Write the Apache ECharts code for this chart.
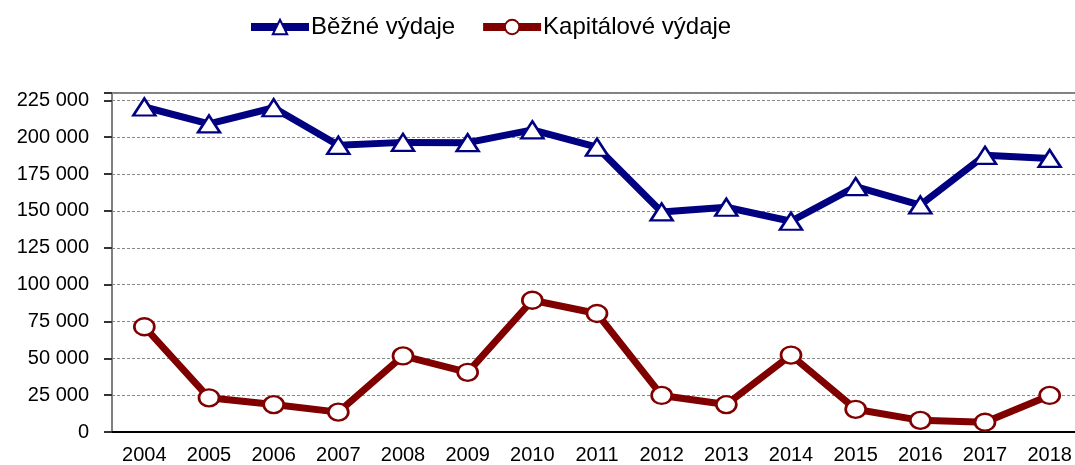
<!DOCTYPE html>
<html lang="cs">
<head>
    <meta charset="UTF-8">
    <title>vydaje</title>
    <script src="https://cdn.jsdelivr.net/npm/echarts@6/dist/echarts.min.js"></script>
</head>
<body style="margin:0">
<div id="main" style="width: 1075px;height:465px;"></div>

<script>
    // roky a hodnoty
    const roky = ['2004', '2005', '2006', '2007', '2008', '2009', '2010', '2011',
        '2012', '2013', '2014', '2015', '2016', '2017', '2018'];
    const bezne = [220500, 209000, 220000, 194500, 196500, 196300, 205000, 193200,
        149300, 152500, 143000, 166500, 154000, 187700, 185600];
    const kapitalove = [71400, 23200, 18600, 13500, 51600, 40500, 89400, 80400,
        24800, 18600, 52200, 15400, 7900, 6600, 24800];
    const osaY = [0, 25000, 50000, 75000, 100000, 125000, 150000, 175000, 200000, 225000];

    const tisice = function (v) {
        if (osaY.indexOf(v) < 0) return '';
        return String(v).replace(/\B(?=(\d{3})+(?!\d))/g, ' ');
    };

    const myChart = echarts.init(document.getElementById('main'));
    myChart.setOption({
        animation: false,
        textStyle: {fontFamily: 'Liberation Sans, Arial, sans-serif'},
        legend: {
            left: 242,
            top: 10,
            itemWidth: 58,
            itemHeight: 18,
            itemGap: 24,
            lineStyle: {width: 8},
            textStyle: {fontSize: 24, color: '#000', padding: [0, 0, 0, -3]},
            data: ['Běžné výdaje', 'Kapitálové výdaje']
        },
        grid: {
            left: 112, top: 93, width: 970, height: 339,
            outerBoundsMode: 'none',
            containLabel: false,
            show: true, borderColor: '#808080', borderWidth: 2
        },
        xAxis: {
            type: 'category',
            data: roky,
            boundaryGap: true,
            axisLine: {lineStyle: {color: '#000', width: 2}},
            axisTick: {length: 8, lineStyle: {color: '#000', width: 2}},
            axisLabel: {fontSize: 20, color: '#000', margin: 13}
        },
        yAxis: {
            type: 'value',
            min: 0,
            max: 230000,
            interval: 25000,
            axisLine: {show: true, lineStyle: {color: '#808080', width: 2}},
            axisTick: {show: true, length: 8, lineStyle: {color: '#333', width: 2}},
            axisLabel: {fontSize: 20, color: '#000', margin: 23, formatter: tisice},
            splitLine: {lineStyle: {color: '#888', width: 1, type: [3, 2]}}
        },
        series: [{
            name: 'Běžné výdaje',
            type: 'line',
            data: bezne,
            symbol: 'triangle',
            symbolSize: [22, 17],
            lineStyle: {color: '#000080', width: 7},
            itemStyle: {color: '#fff', borderColor: '#000080', borderWidth: 2.5}
        }, {
            name: 'Kapitálové výdaje',
            type: 'line',
            data: kapitalove,
            symbol: 'circle',
            symbolSize: [20, 17],
            lineStyle: {color: '#800000', width: 7},
            itemStyle: {color: '#fff', borderColor: '#800000', borderWidth: 2.5}
        }]
    });
</script>
</body>
</html>
